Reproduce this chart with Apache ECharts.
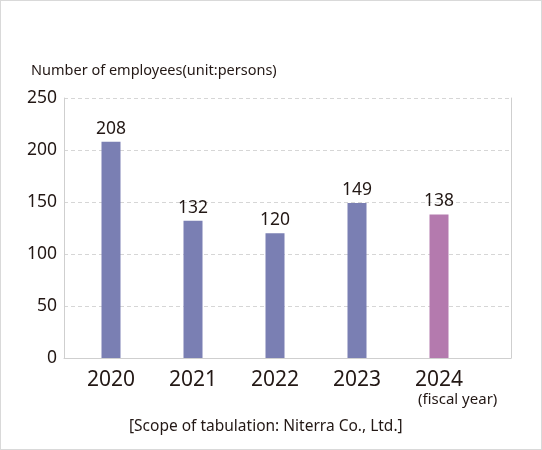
<!DOCTYPE html>
<html>
<head>
<meta charset="utf-8">
<script src="https://cdn.jsdelivr.net/npm/echarts@6/dist/echarts.min.js"></script>
<style>
html, body { margin: 0; padding: 0; background: #fff; }
#chart { width: 540px; height: 448px; border: 1px solid #d9d9d9; }
</style>
</head>
<body>
<div id="chart"></div>
<script>
// 従業員数
var years = ['2020', '2021', '2022', '2023', '2024'];
var employees = [208, 132, 120, 149, 138];
var yTicks = [0, 50, 100, 150, 200, 250];

var barBlue = '#7a7fb3';
var barPink = '#b47aae';
var textColor = '#231815';

var barData = employees.map(function (v, i) {
    return {
        value: v,
        itemStyle: { color: i === employees.length - 1 ? barPink : barBlue }
    };
});

var option = {
    animation: false,
    textStyle: { fontFamily: 'Noto Sans' },
    title: [
        {
            text: 'Number of employees(unit:persons)',
            left: 25, top: 57,
            textStyle: { fontSize: 14.5, fontWeight: 'normal', color: textColor, fontFamily: 'Noto Sans' }
        },
        {
            text: '(fiscal year)',
            left: 412, top: 386,
            textStyle: { fontSize: 15, fontWeight: 'normal', color: textColor, fontFamily: 'Noto Sans' }
        },
        {
            text: '[Scope of tabulation: Niterra Co., Ltd.]',
            left: 123, top: 413,
            textStyle: { fontSize: 15.5, fontWeight: 'normal', color: textColor, fontFamily: 'Noto Sans' }
        }
    ],
    grid: [
        // 枠用
        { left: 63, top: 97, width: 447, height: 260, containLabel: false },
        // 棒用
        { left: 69, top: 97, width: 410, height: 260, containLabel: false }
    ],
    xAxis: [
        {
            gridIndex: 0,
            type: 'category',
            data: years,
            axisLine: { show: true, lineStyle: { color: '#cfcfcf', width: 1 } },
            axisTick: { show: false },
            axisLabel: { show: false },
            splitLine: { show: false }
        },
        {
            gridIndex: 1,
            type: 'category',
            data: years,
            axisLine: { show: false },
            axisTick: { show: false },
            axisLabel: {
                margin: 12,
                color: textColor,
                fontSize: 21,
                fontFamily: 'Noto Sans'
            },
            splitLine: { show: false }
        }
    ],
    yAxis: [
        {
            gridIndex: 0,
            type: 'value',
            min: 0,
            max: 250,
            interval: 50,
            axisLine: { show: true, lineStyle: { color: '#cfcfcf', width: 1 } },
            axisTick: { show: false },
            axisLabel: {
                margin: 7,
                color: textColor,
                fontSize: 17.5,
                fontFamily: 'Noto Sans',
                formatter: function (v) { return yTicks.indexOf(v) >= 0 ? String(v) : ''; }
            },
            splitLine: { show: true, lineStyle: { color: '#d6d6d6', type: [4, 3], width: 1 } }
        },
        {
            gridIndex: 0,
            type: 'value',
            position: 'right',
            min: 0,
            max: 250,
            interval: 50,
            axisLine: { show: true, lineStyle: { color: '#cfcfcf', width: 1 } },
            axisTick: { show: false },
            axisLabel: { show: false },
            splitLine: { show: false }
        },
        {
            gridIndex: 1,
            type: 'value',
            min: 0,
            max: 250,
            interval: 50,
            show: false
        }
    ],
    series: [
        {
            type: 'bar',
            xAxisIndex: 1,
            yAxisIndex: 2,
            barWidth: 19,
            data: barData,
            label: {
                show: true,
                position: 'top',
                distance: 4,
                color: textColor,
                fontSize: 17.5,
                fontFamily: 'Noto Sans'
            }
        }
    ]
};

var chart = echarts.init(document.getElementById('chart'));
chart.setOption(option);
</script>
</body>
</html>
